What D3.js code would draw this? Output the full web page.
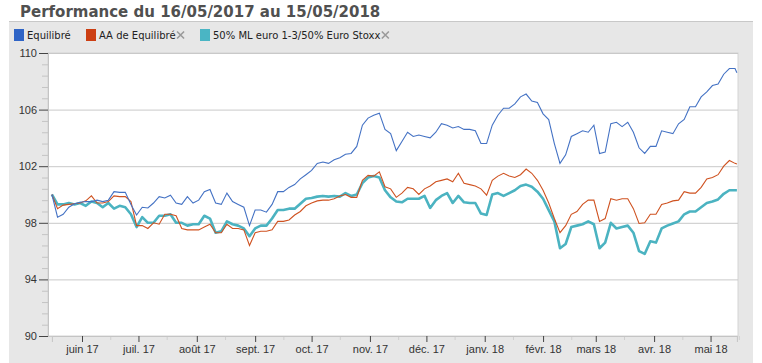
<!DOCTYPE html>
<html>
<head>
<meta charset="utf-8">
<script src="https://cdn.jsdelivr.net/npm/d3@7"></script>
<style>
  body { margin: 0; background: #fff; }
  .ylab text, .xlab text { font-family: "Liberation Sans", Arial, sans-serif; font-size: 11px; fill: #333; }
</style>
</head>
<body>
<div id="chart"></div>
<script>
// dates, one point every 3 days
var dates = [
  "2017-05-16","2017-05-19","2017-05-22","2017-05-25","2017-05-28","2017-05-31","2017-06-03","2017-06-06","2017-06-09","2017-06-12",
  "2017-06-15","2017-06-18","2017-06-21","2017-06-24","2017-06-27","2017-06-30","2017-07-03","2017-07-06","2017-07-09","2017-07-12",
  "2017-07-15","2017-07-18","2017-07-21","2017-07-24","2017-07-27","2017-07-30","2017-08-02","2017-08-05","2017-08-08","2017-08-11",
  "2017-08-14","2017-08-17","2017-08-20","2017-08-23","2017-08-26","2017-08-29","2017-09-01","2017-09-04","2017-09-07","2017-09-10",
  "2017-09-13","2017-09-16","2017-09-19","2017-09-22","2017-09-25","2017-09-28","2017-10-01","2017-10-04","2017-10-07","2017-10-10",
  "2017-10-13","2017-10-16","2017-10-19","2017-10-22","2017-10-25","2017-10-28","2017-10-31","2017-11-03","2017-11-06","2017-11-09",
  "2017-11-12","2017-11-15","2017-11-18","2017-11-21","2017-11-24","2017-11-27","2017-11-30","2017-12-03","2017-12-06","2017-12-09",
  "2017-12-12","2017-12-15","2017-12-18","2017-12-21","2017-12-24","2017-12-27","2017-12-30","2018-01-02","2018-01-05","2018-01-08",
  "2018-01-11","2018-01-14","2018-01-17","2018-01-20","2018-01-23","2018-01-26","2018-01-29","2018-02-01","2018-02-04","2018-02-07",
  "2018-02-10","2018-02-13","2018-02-16","2018-02-19","2018-02-22","2018-02-25","2018-02-28","2018-03-03","2018-03-06","2018-03-09",
  "2018-03-12","2018-03-15","2018-03-18","2018-03-21","2018-03-24","2018-03-27","2018-03-30","2018-04-02","2018-04-05","2018-04-08",
  "2018-04-11","2018-04-14","2018-04-17","2018-04-20","2018-04-23","2018-04-26","2018-04-29","2018-05-02","2018-05-05","2018-05-08",
  "2018-05-11","2018-05-14","2018-05-15"
];

var equilibre = [
  100.0, 98.4, 98.6, 99.1, 99.35, 99.45, 99.5, 99.5, 99.6, 99.5,
  99.6, 100.2, 100.15, 100.15, 99.3, 98.55, 99.1, 99.05, 99.4, 99.85,
  99.75, 99.95, 99.4, 99.3, 99.85, 99.4, 99.6, 100.2, 100.35, 99.4,
  99.3, 100.1, 99.5, 99.3, 99.1, 97.8, 98.9, 98.9, 98.75, 99.3,
  100.2, 100.2, 100.5, 100.7, 101.1, 101.4, 101.7, 102.2, 102.3, 102.2,
  102.45, 102.6, 102.85, 102.9, 103.4, 104.9, 105.4, 105.6, 105.75, 104.6,
  104.3, 103.1, 103.75, 104.4, 104.1, 104.2, 104.1, 104.0, 104.4, 105.0,
  104.9, 104.7, 104.8, 104.6, 104.6, 104.5, 103.6, 103.6, 104.9, 105.6,
  106.1, 106.1, 106.4, 106.9, 107.1, 106.6, 106.5, 105.7, 105.3, 103.6,
  102.2, 102.8, 104.1, 104.3, 104.5, 104.4, 104.9, 102.9, 103.0, 105.0,
  105.1, 104.8, 105.1, 104.4, 103.3, 102.9, 103.4, 103.4, 104.5, 104.4,
  104.3, 105.0, 105.3, 106.2, 106.2, 106.9, 107.25, 107.7, 107.8, 108.5,
  108.9, 108.9, 108.6
];

var aaEquilibre = [
  100.0, 99.0, 99.25, 99.3, 99.35, 99.4, 99.55, 99.9, 99.4, 99.4,
  99.5, 99.9, 99.85, 99.85, 99.5, 97.8, 97.8, 97.6, 98.0, 97.9,
  98.6, 98.6, 98.5, 97.6, 97.5, 97.5, 97.5, 97.7, 97.9, 97.3,
  97.3, 97.9, 97.6, 97.6, 97.5, 96.4, 97.3, 97.4, 97.4, 97.5,
  98.1, 98.1, 98.2, 98.55, 98.8, 99.2, 99.4, 99.55, 99.6, 99.6,
  99.7, 99.9, 100.0, 99.8, 99.8, 101.0, 101.35, 101.3, 101.6, 100.55,
  100.4, 99.8, 100.1, 100.5, 100.4, 100.0, 100.4, 100.6, 100.9, 101.0,
  101.1, 100.9, 101.5, 100.8, 100.7, 100.6, 100.4, 99.95, 101.0, 101.3,
  101.5, 101.3, 101.2, 101.4, 101.8, 101.5, 101.0, 100.3, 99.4, 98.3,
  97.3, 97.8, 98.6, 98.8, 99.3, 99.6, 99.6, 98.1, 98.3, 99.7,
  99.6, 99.7, 99.7, 99.0, 97.95, 98.0, 98.6, 98.6, 99.3, 99.4,
  99.55, 99.6, 100.2, 100.1, 100.1, 100.5, 101.1, 101.2, 101.4, 102.0,
  102.4, 102.2, 102.15
];

var mlEuroStoxx = [
  100.0, 99.3, 99.3, 99.4, 99.3, 99.4, 99.2, 99.5, 99.4, 99.1,
  99.4, 99.0, 99.2, 99.1, 98.6, 97.7, 98.4, 98.0, 98.0, 98.5,
  98.5, 98.6, 98.0, 98.0, 97.8, 97.9, 97.9, 98.5, 98.3, 97.3,
  97.4, 98.1, 97.9, 97.8, 97.6, 97.05, 97.6, 97.8, 97.8, 98.3,
  98.9, 98.9, 99.0, 99.0, 99.35, 99.7, 99.75, 99.85, 99.9, 99.85,
  99.9, 99.85, 100.1, 99.9, 100.0, 100.8, 101.2, 101.3, 101.2, 100.3,
  99.8, 99.5, 99.45, 99.7, 99.7, 99.7, 99.9, 99.05, 99.6, 99.9,
  100.1, 99.4, 99.9, 99.45, 99.4, 99.4, 98.65, 98.55, 100.0, 100.1,
  99.9, 100.1, 100.3, 100.6, 100.7, 100.55, 100.2, 99.7, 98.9, 98.1,
  96.2, 96.5, 97.7, 97.8, 97.9, 98.1, 97.9, 96.2, 96.6, 98.0,
  97.6, 97.7, 97.8, 97.3, 96.0, 95.8, 96.7, 96.6, 97.6, 97.8,
  97.95, 98.1, 98.6, 98.8, 98.8, 99.1, 99.4, 99.5, 99.65, 100.05,
  100.3, 100.3, 100.3
];

var seriesNames = ["Equilibré", "AA de Equilibré", "50% ML euro 1-3/50% Euro Stoxx"];
var seriesColors = ["#4472C4", "#CF5220", "#4BB3C1"];
var legendColors = ["#2F64C6", "#CC3E12", "#4AB5C4"];

var yTicks = [90, 94, 98, 102, 106, 110];
var monthTicks = ["2017-06-01","2017-07-01","2017-08-01","2017-09-01","2017-10-01","2017-11-01",
                  "2017-12-01","2018-01-01","2018-02-01","2018-03-01","2018-04-01","2018-05-01"];
var monthLabels = ["juin 17","juil. 17","août 17","sept. 17","oct. 17","nov. 17",
                   "déc. 17","janv. 18","févr. 18","mars 18","avr. 18","mai 18"];

var W = 762, H = 363;
var plot = {left: 48, right: 738, top: 53, bottom: 336};

var parse = d3.timeParse("%Y-%m-%d");
var dd = dates.map(parse);

var svg = d3.select("#chart").append("svg")
    .attr("width", W)
    .attr("height", H);

// title
svg.append("text")
    .attr("x", 20).attr("y", 17)
    .style("font-family", "DejaVu Sans, Verdana, sans-serif")
    .style("font-weight", "bold")
    .style("font-size", "15px")
    .style("fill", "#505050")
    .text("Performance du 16/05/2017 au 15/05/2018");

svg.append("rect")
    .attr("x", 9).attr("y", 21).attr("width", 744).attr("height", H - 21)
    .attr("fill", "#e7e7e7");
svg.append("line")
    .attr("x1", 9).attr("x2", 753).attr("y1", 21.5).attr("y2", 21.5)
    .attr("stroke", "#c8c8c8");

// legend
var legX = [14, 86, 200];
var leg = svg.append("g");
seriesNames.forEach(function(name, i) {
    leg.append("rect")
        .attr("x", legX[i]).attr("y", 29).attr("width", 10).attr("height", 12)
        .attr("fill", legendColors[i]);
    var t = leg.append("text")
        .attr("x", legX[i] + 13).attr("y", 39)
        .style("font-family", "DejaVu Sans, Verdana, sans-serif")
        .style("font-size", "10px")
        .style("fill", "#222")
        .text(name);
    if (i > 0) {
        var w = t.node().getComputedTextLength();
        var cx = legX[i] + 13 + w + 5, cy = 35;
        leg.append("path")
            .attr("d", "M" + (cx - 3.5) + "," + (cy - 3.5) + "L" + (cx + 3.5) + "," + (cy + 3.5) +
                       "M" + (cx + 3.5) + "," + (cy - 3.5) + "L" + (cx - 3.5) + "," + (cy + 3.5))
            .attr("stroke", "#9a9a9a")
            .attr("stroke-width", 1.6);
    }
});

// plot background
svg.append("rect")
    .attr("x", plot.left).attr("y", plot.top)
    .attr("width", plot.right - plot.left).attr("height", plot.bottom - plot.top)
    .attr("fill", "#fff")
    .attr("stroke", "#d4d4d4");

var x = d3.scaleTime()
    .domain([parse("2017-05-16"), parse("2018-05-15")])
    .range([51.9, 736.9]);
var y = d3.scaleLinear()
    .domain([90, 110])
    .range([plot.bottom, plot.top]);

// gridlines
svg.append("g")
    .attr("transform", "translate(" + plot.left + ",0)")
    .call(d3.axisLeft(y).tickValues(yTicks).tickSize(-(plot.right - plot.left)).tickFormat(""))
    .call(function(g) {
        g.select(".domain").remove();
        g.selectAll("line").attr("stroke", "#c9c9c9");
    });

// minor y ticks
var minorY = d3.range(90, 110.01, 0.8).filter(function(v) { return yTicks.indexOf(Math.round(v * 100) / 100) < 0; });
svg.append("g")
    .attr("transform", "translate(" + plot.left + ",0)")
    .call(d3.axisLeft(y).tickValues(minorY).tickSize(6).tickFormat(""))
    .call(function(g) {
        g.select(".domain").remove();
        g.selectAll("line").attr("stroke", "#c4c4c4");
    });

// major y axis
svg.append("g")
    .attr("class", "ylab")
    .attr("transform", "translate(" + plot.left + ",0)")
    .call(d3.axisLeft(y).tickValues(yTicks).tickSize(9).tickPadding(2))
    .call(function(g) {
        g.select(".domain").attr("stroke", "#c4c4c4");
        g.selectAll("line").attr("stroke", "#444");
    });

// x axis minor (weekly)
svg.append("g")
    .attr("transform", "translate(0," + plot.bottom + ")")
    .call(d3.axisBottom(x).ticks(d3.timeMonth.every(1)).tickValues(d3.timeMonth.range(parse("2017-05-16"), parse("2018-05-16")).map(function(d) { return d3.timeDay.offset(d, 15); })).tickSize(4).tickFormat(""))
    .call(function(g) {
        g.select(".domain").remove();
        g.selectAll("line").attr("stroke", "#cfcfcf");
    });

svg.append("g")
    .attr("class", "xlab")
    .attr("transform", "translate(0," + plot.bottom + ")")
    .call(d3.axisBottom(x).tickValues(monthTicks.map(parse)).tickSize(6).tickPadding(3)
        .tickFormat(function(d, i) { return monthLabels[i]; }))
    .call(function(g) {
        g.select(".domain").attr("stroke", "#c4c4c4");
        g.selectAll("line").attr("stroke", "#444");
    });

// lines
var line = d3.line()
    .x(function(d, i) { return x(dd[i]); })
    .y(function(d) { return y(d); });

svg.append("path")
    .datum(mlEuroStoxx)
    .attr("d", line)
    .attr("fill", "none")
    .attr("stroke", seriesColors[2])
    .attr("stroke-width", 2.6)
    .attr("stroke-linejoin", "round");

svg.append("path")
    .datum(aaEquilibre)
    .attr("d", line)
    .attr("fill", "none")
    .attr("stroke", seriesColors[1])
    .attr("stroke-width", 1.1);

svg.append("path")
    .datum(equilibre)
    .attr("d", line)
    .attr("fill", "none")
    .attr("stroke", seriesColors[0])
    .attr("stroke-width", 1.1);
</script>
</body>
</html>
